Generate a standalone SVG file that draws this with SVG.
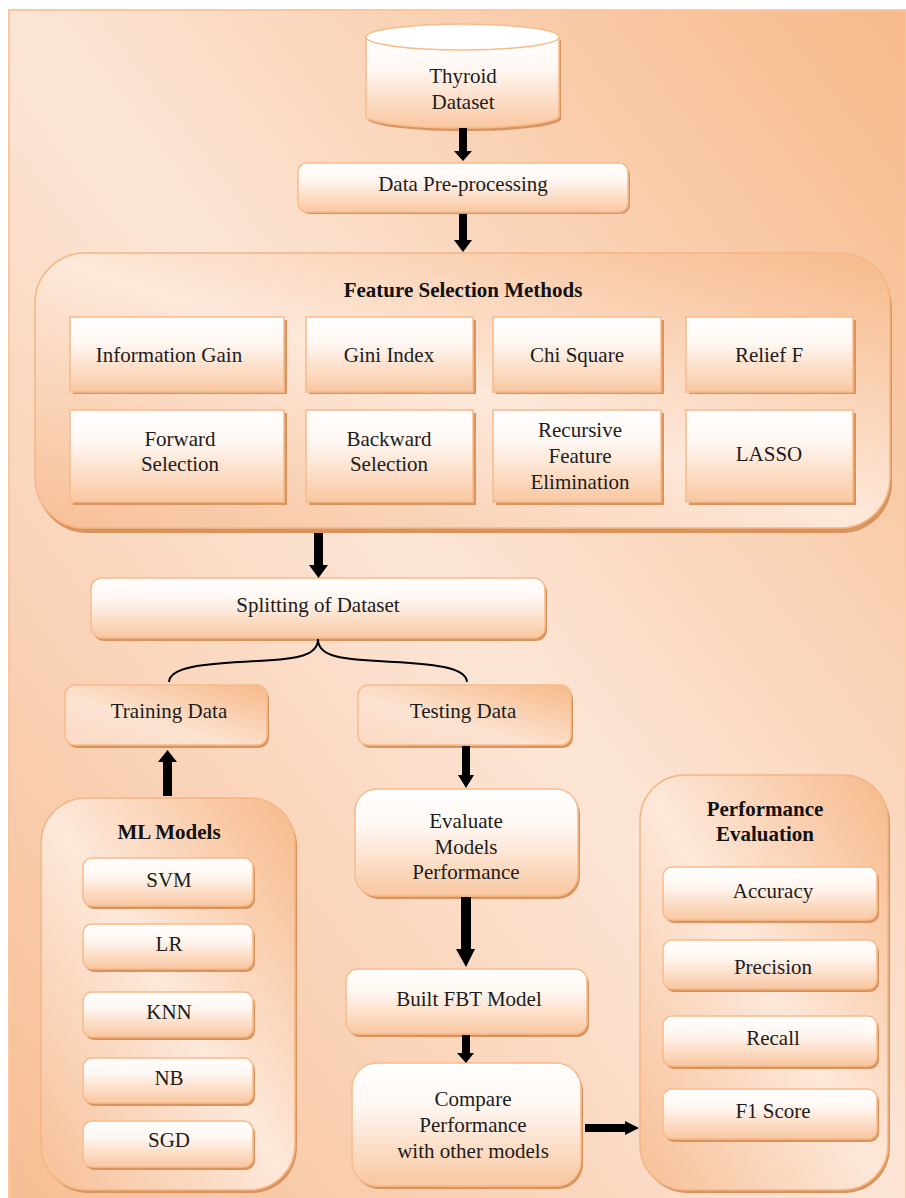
<svg xmlns="http://www.w3.org/2000/svg" width="906" height="1198" viewBox="0 0 906 1198">
<defs>
<linearGradient id="gBg" x1="1" y1="0" x2="0" y2="1">
<stop offset="0" stop-color="#f7b989"/>
<stop offset="0.5" stop-color="#fce5d6"/>
<stop offset="1" stop-color="#f7be94"/>
</linearGradient>
<linearGradient id="gDiag" x1="1" y1="0" x2="0" y2="1">
<stop offset="0" stop-color="#f7ba8b"/>
<stop offset="0.5" stop-color="#fde8da"/>
<stop offset="1" stop-color="#f7bf96"/>
</linearGradient>
<linearGradient id="gData" x1="1" y1="0" x2="0" y2="1">
<stop offset="0" stop-color="#f7b988"/>
<stop offset="0.6" stop-color="#fce3d2"/>
<stop offset="1" stop-color="#fbd9c2"/>
</linearGradient>
<linearGradient id="gBox" x1="0" y1="0" x2="0" y2="1">
<stop offset="0" stop-color="#ffffff"/>
<stop offset="0.35" stop-color="#fff7f2"/>
<stop offset="1" stop-color="#f9c7a0"/>
</linearGradient>
<style>
.box{fill:url(#gBox);stroke:#f7bb8c;stroke-width:1.5}
.cont{fill:url(#gDiag);stroke:#f4b585;stroke-width:1.5}
.data{fill:url(#gData);stroke:#f7bb8c;stroke-width:1.5}
.sh{fill:#d9945e}
.t{font-family:"Liberation Serif","Times New Roman",serif;font-size:21px;fill:#1c1c1c;text-anchor:middle}
.tb{font-family:"Liberation Serif","Times New Roman",serif;font-size:21px;font-weight:bold;fill:#111;text-anchor:middle}
.arr{fill:#000}
.brace{fill:none;stroke:#000;stroke-width:2}
</style>
</defs>

<rect x="9" y="10" width="897" height="1190" fill="url(#gBg)" stroke="#f9c7a1" stroke-width="2"/>

<g id="thyroid-dataset">
<path class="sh" d="M368,40 L368,119 A96,12 0 0 0 561,119 L561,40 Z"/>
<path class="box" d="M366,37 L366,116 A96.5,12 0 0 0 559,116 L559,37 Z"/>
<ellipse cx="462.5" cy="37" rx="96.5" ry="13" fill="#ffffff" stroke="#f7bb8c" stroke-width="1.5"/>
<text class="t" x="463" y="83">Thyroid</text>
<text class="t" x="463" y="109">Dataset</text>
</g>

<g id="data-preprocessing">
<rect class="sh" x="300" y="166" width="330" height="48" rx="9"/>
<rect class="box" x="298" y="163" width="330" height="49" rx="9"/>
<text class="t" x="463" y="191">Data Pre-processing</text>
</g>

<g id="feature-selection">
<rect class="sh" x="37" y="258" width="855" height="275" rx="50"/>
<rect class="cont" x="35" y="253" width="855" height="275" rx="50"/>
<text class="tb" x="463" y="297">Feature Selection Methods</text>
</g>
<g id="fs-information-gain">
<rect class="sh" x="73" y="320" width="214" height="74"/>
<rect class="box" x="70" y="317" width="214" height="75"/>
<text class="t" x="169" y="362">Information Gain</text>
</g>
<g id="fs-gini-index">
<rect class="sh" x="309" y="320" width="167" height="74"/>
<rect class="box" x="306" y="317" width="167" height="75"/>
<text class="t" x="389" y="362">Gini Index</text>
</g>
<g id="fs-chi-square">
<rect class="sh" x="496" y="320" width="168" height="74"/>
<rect class="box" x="493" y="317" width="168" height="75"/>
<text class="t" x="577" y="362">Chi Square</text>
</g>
<g id="fs-relief-f">
<rect class="sh" x="689" y="320" width="167" height="74"/>
<rect class="box" x="686" y="317" width="167" height="75"/>
<text class="t" x="769" y="362">Relief F</text>
</g>
<g id="fs-forward-selection">
<rect class="sh" x="73" y="413" width="214" height="92"/>
<rect class="box" x="70" y="410" width="214" height="92"/>
<text class="t" x="180" y="446">Forward</text>
<text class="t" x="180" y="471">Selection</text>
</g>
<g id="fs-backward-selection">
<rect class="sh" x="309" y="413" width="167" height="92"/>
<rect class="box" x="306" y="410" width="167" height="92"/>
<text class="t" x="389" y="446">Backward</text>
<text class="t" x="389" y="471">Selection</text>
</g>
<g id="fs-recursive-feature-elimination">
<rect class="sh" x="496" y="413" width="168" height="92"/>
<rect class="box" x="493" y="410" width="168" height="92"/>
<text class="t" x="580" y="437">Recursive</text>
<text class="t" x="580" y="463">Feature</text>
<text class="t" x="580" y="489">Elimination</text>
</g>
<g id="fs-lasso">
<rect class="sh" x="689" y="413" width="167" height="92"/>
<rect class="box" x="686" y="410" width="167" height="92"/>
<text class="t" x="769" y="461">LASSO</text>
</g>

<g id="splitting-of-dataset">
<rect class="sh" x="93" y="581" width="454" height="60" rx="11"/>
<rect class="box" x="91" y="578" width="454" height="60" rx="11"/>
<text class="t" x="318" y="612">Splitting of Dataset</text>
</g>

<g id="training-data">
<rect class="sh" x="67" y="688" width="202" height="60" rx="10"/>
<rect class="data" x="65" y="685" width="202" height="60" rx="10"/>
<text class="t" x="169" y="718">Training Data</text>
</g>
<g id="testing-data">
<rect class="sh" x="360" y="688" width="213" height="60" rx="10"/>
<rect class="data" x="358" y="685" width="213" height="60" rx="10"/>
<text class="t" x="463" y="718">Testing Data</text>
</g>

<g id="ml-models">
<rect class="sh" x="43" y="801" width="254" height="392" rx="45"/>
<rect class="cont" x="41" y="798" width="254" height="392" rx="45"/>
<text class="tb" x="169" y="839">ML Models</text>
</g>
<g id="ml-svm">
<rect class="sh" x="85" y="861" width="170" height="48" rx="9"/>
<rect class="box" x="83" y="858" width="170" height="48" rx="9"/>
<text class="t" x="169" y="887">SVM</text>
</g>
<g id="ml-lr">
<rect class="sh" x="85" y="927" width="170" height="45" rx="9"/>
<rect class="box" x="83" y="924" width="170" height="45" rx="9"/>
<text class="t" x="169" y="951">LR</text>
</g>
<g id="ml-knn">
<rect class="sh" x="85" y="995" width="170" height="45" rx="9"/>
<rect class="box" x="83" y="992" width="170" height="45" rx="9"/>
<text class="t" x="169" y="1019">KNN</text>
</g>
<g id="ml-nb">
<rect class="sh" x="85" y="1061" width="170" height="45" rx="9"/>
<rect class="box" x="83" y="1058" width="170" height="45" rx="9"/>
<text class="t" x="169" y="1085">NB</text>
</g>
<g id="ml-sgd">
<rect class="sh" x="85" y="1124" width="170" height="46" rx="9"/>
<rect class="box" x="83" y="1121" width="170" height="46" rx="9"/>
<text class="t" x="169" y="1147">SGD</text>
</g>

<g id="evaluate-models-performance">
<rect class="sh" x="357" y="792" width="223" height="107" rx="22"/>
<rect class="box" x="355" y="789" width="223" height="107" rx="22"/>
<text class="t" x="466" y="828">Evaluate</text>
<text class="t" x="466" y="854">Models</text>
<text class="t" x="466" y="879">Performance</text>
</g>

<g id="built-fbt-model">
<rect class="sh" x="348" y="972" width="241" height="65" rx="12"/>
<rect class="box" x="346" y="969" width="241" height="65" rx="12"/>
<text class="t" x="469" y="1006">Built FBT Model</text>
</g>

<g id="compare-performance">
<rect class="sh" x="354" y="1066" width="229" height="123" rx="25"/>
<rect class="box" x="352" y="1063" width="229" height="123" rx="25"/>
<text class="t" x="473" y="1106">Compare</text>
<text class="t" x="473" y="1132">Performance</text>
<text class="t" x="473" y="1158">with other models</text>
</g>

<g id="performance-evaluation">
<rect class="sh" x="642" y="778" width="248" height="415" rx="45"/>
<rect class="cont" x="640" y="775" width="248" height="415" rx="45"/>
<text class="tb" x="765" y="816">Performance</text>
<text class="tb" x="765" y="841">Evaluation</text>
</g>
<g id="pe-accuracy">
<rect class="sh" x="665" y="870" width="214" height="53" rx="9"/>
<rect class="box" x="663" y="867" width="214" height="53" rx="9"/>
<text class="t" x="773" y="898">Accuracy</text>
</g>
<g id="pe-precision">
<rect class="sh" x="665" y="943" width="214" height="49" rx="9"/>
<rect class="box" x="663" y="940" width="214" height="49" rx="9"/>
<text class="t" x="773" y="974">Precision</text>
</g>
<g id="pe-recall">
<rect class="sh" x="665" y="1019" width="214" height="50" rx="9"/>
<rect class="box" x="663" y="1016" width="214" height="50" rx="9"/>
<text class="t" x="773" y="1045">Recall</text>
</g>
<g id="pe-f1-score">
<rect class="sh" x="665" y="1092" width="214" height="50" rx="9"/>
<rect class="box" x="663" y="1089" width="214" height="50" rx="9"/>
<text class="t" x="773" y="1118">F1 Score</text>
</g>

<g id="connectors">
<polygon class="arr" points="459,128 467,128 467,151 472,151 463,161 454,151 459,151"/>
<polygon class="arr" points="459,214 467,214 467,240 472,240 463,252 454,240 459,240"/>
<polygon class="arr" points="314,533 323,533 323,565 328,565 318.5,578 309,565 314,565"/>
<path class="brace" d="M318,639 C318,655 300,659 258,661 C200,664 170,667 169,682"/>
<path class="brace" d="M318,639 C318,655 336,659 378,661 C436,664 466,667 467,682"/>
<polygon class="arr" points="163,796 172,796 172,762 177,762 167.5,750 158,762 163,762"/>
<polygon class="arr" points="462,746 470,746 470,775 474,775 466,788 458,775 462,775"/>
<polygon class="arr" points="461,897 471,897 471,949 475,949 466,967 456,949 461,949"/>
<polygon class="arr" points="462,1035 470,1035 470,1053 474,1053 466,1063 457,1053 462,1053"/>
<polygon class="arr" points="585,1124 625,1124 625,1121 639,1128 625,1135 625,1132 585,1132"/>
</g>
</svg>
